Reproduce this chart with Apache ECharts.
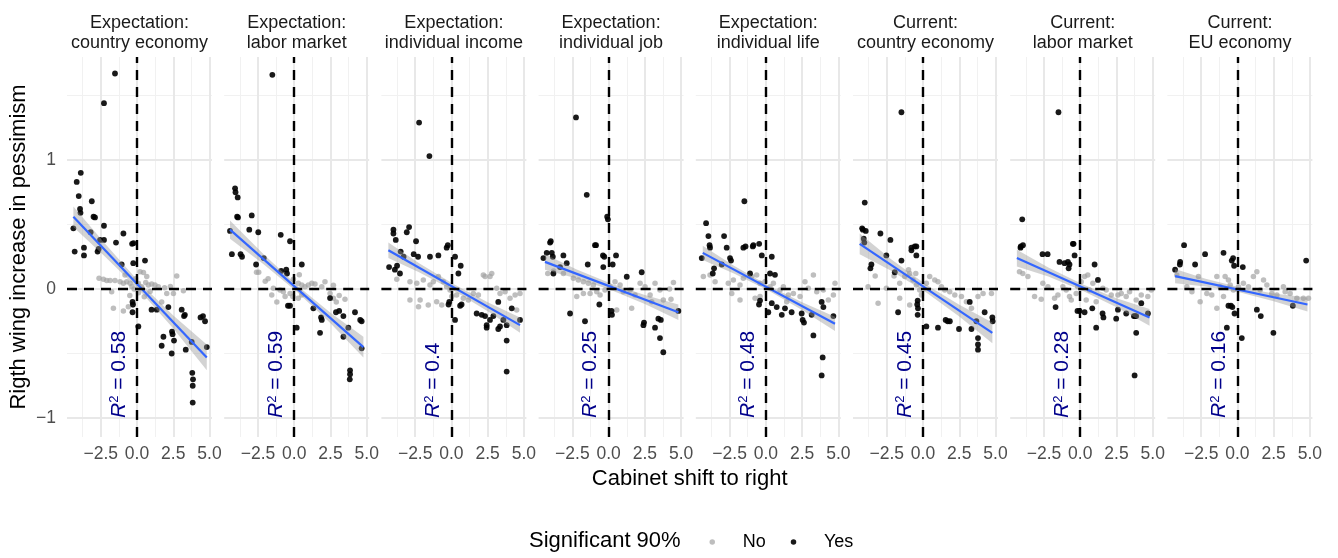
<!DOCTYPE html>
<html><head><meta charset="utf-8">
<script src="https://cdn.jsdelivr.net/npm/echarts@6/dist/echarts.min.js"></script>
<style>html,body{margin:0;padding:0;background:#fff}#c{width:1338px;height:558px}</style>
</head><body><div id="c"></div>
<script>
// ---------------- DATA ----------------
const panelTitles = [
  'Expectation:\ncountry economy', 'Expectation:\nlabor market', 'Expectation:\nindividual income',
  'Expectation:\nindividual job', 'Expectation:\nindividual life', 'Current:\ncountry economy',
  'Current:\nlabor market', 'Current:\nEU economy'
];
const r2Labels = ['0.58', '0.59', '0.4', '0.25', '0.48', '0.45', '0.28', '0.16'];
const xTicks = [-2.5, 0, 2.5, 5];
const xMinorTicks = [-3.75, -1.25, 1.25, 3.75];
const yTicks = [-1, 0, 1];
const yMinorTicks = [-0.5, 0.5, 1.5];
const legendNames = ['No', 'Yes'];

const p1No = [[-2.62,0.083],[-2.32,0.075],[-2.09,0.065],[-1.86,0.065],[-1.52,0.065],[-1.17,0.057],[-0.94,0.044],[-0.71,0.057],[-0.48,0.044],[-0.83,0.109],[0.21,0.134],[0.44,0.128],[0.67,0.096],[1.01,0.039],[1.24,0.031],[1.47,0.018],[2.05,-0.034],[2.51,-0.034],[2.74,0.10],[3.2,-0.013],[-1.63,-0.150],[-0.94,-0.171],[-0.60,-0.137],[-0.30,-0.124],[0.09,0.044],[0.32,0.018],[0.78,0.031],[-1.75,-0.021],[-0.2,0.0],[0.1,-0.03],[-0.5,-0.05],[0.5,-0.06],[0.9,-0.02],[1.7,-0.1],[2.3,0.02],[-0.1,0.08],[-0.35,0.02],[0.6,0.05],[1.9,0.01]];
const p1Yes = [[-1.52,1.67],[-2.28,1.44],[-3.88,0.90],[-4.16,0.83],[-4.02,0.72],[-3.12,0.68],[-3.93,0.62],[-3.9,0.59],[-3.0,0.56],[-2.9,0.555],[-2.28,0.49],[-4.39,0.47],[-0.94,0.43],[-1.45,0.36],[-2.55,0.38],[-2.28,0.38],[-0.34,0.35],[-0.25,0.355],[-3.2,0.44],[-3.66,0.32],[-4.3,0.29],[-3.66,0.26],[-2.72,0.29],[-2.65,0.31],[-0.26,0.20],[0.55,0.22],[-1.06,0.19],[-0.31,-0.10],[-0.28,-0.12],[-0.31,-0.18],[0.09,-0.29],[1.0,-0.16],[1.36,-0.16],[2.16,-0.14],[3.08,-0.16],[3.24,-0.21],[3.3,-0.2],[2.41,-0.33],[2.45,-0.35],[1.82,-0.37],[1.7,-0.44],[2.55,-0.40],[2.39,-0.50],[3.36,-0.47],[3.77,-0.41],[4.38,-0.22],[4.55,-0.21],[4.69,-0.25],[4.81,-0.45],[3.81,-0.65],[3.86,-0.70],[3.84,-0.75],[3.84,-0.88]];

const p2No = [[-1.55,-0.047],[-1.44,0.005],[-0.98,-0.008],[-0.75,-0.021],[-0.63,-0.059],[-0.29,-0.034],[-0.10,-0.059],[0.28,-0.072],[0.52,-0.047],[0.74,0.018],[0.97,0.031],[1.21,0.044],[1.43,0.039],[1.90,0.018],[2.12,0.057],[2.47,-0.034],[2.70,-0.072],[-2.6,0.13],[-2.45,0.13],[-2.0,0.06],[-1.8,0.08],[-0.06,0.075],[0.28,0.044],[0.52,0.031],[0.35,0.11],[2.7,0.03],[3.1,-0.05],[2.9,-0.1],[3.5,-0.08],[-1.2,-0.1],[-0.4,-0.13]];
const p2Yes = [[-1.51,1.66],[-4.08,0.78],[-4.05,0.75],[-3.9,0.71],[-3.94,0.56],[-3.88,0.555],[-2.93,0.57],[-3.1,0.46],[-2.48,0.44],[-4.43,0.45],[-0.93,0.42],[-0.29,0.37],[-4.3,0.27],[-3.7,0.27],[-3.6,0.25],[-2.63,0.19],[-0.9,0.14],[-0.55,0.15],[-0.5,0.12],[0.52,0.19],[-0.43,-0.13],[-0.29,-0.13],[0.17,-0.30],[1.32,-0.15],[1.85,-0.22],[1.9,-0.24],[1.78,-0.34],[2.47,-0.07],[2.88,-0.18],[3.1,-0.17],[3.39,-0.21],[3.73,-0.30],[3.39,-0.37],[4.19,-0.18],[4.55,-0.24],[4.65,-0.25],[4.65,-0.46],[3.85,-0.63],[3.85,-0.66],[3.83,-0.70],[-2.1,0.24]];

const p3No = [[-3.77,0.075],[-2.86,0.057],[-2.39,0.044],[-1.94,0.070],[-1.48,0.031],[-1.25,0.057],[-0.9,0.096],[-0.56,0.057],[-0.33,0.018],[-0.1,-0.008],[0.02,-0.059],[0.36,-0.047],[0.82,-0.072],[1.17,-0.085],[1.51,-0.034],[1.86,-0.047],[2.2,0.109],[2.32,0.096],[2.66,0.096],[2.78,0.121],[3.12,0.005],[3.35,-0.034],[3.7,-0.021],[4.04,-0.072],[4.39,-0.047],[4.73,-0.034],[4.5,-0.163],[-2.86,-0.085],[-2.27,-0.137],[-1.6,-0.124],[-2.16,-0.085],[-1.02,-0.098],[-0.67,-0.124]];
const p3Yes = [[-2.23,1.29],[-1.52,1.03],[-4.0,0.46],[-4.0,0.43],[-2.92,0.48],[-3.08,0.44],[-3.84,0.38],[-2.44,0.37],[-0.33,0.32],[-4.3,0.17],[-3.9,0.15],[-3.55,0.12],[-3.75,0.18],[-3.5,0.29],[-3.3,0.25],[-2.6,0.27],[-2.3,0.25],[-1.48,0.25],[-0.9,0.26],[-0.25,0.34],[0.25,0.25],[0.64,0.18],[0.48,0.12],[-0.2,-0.12],[-0.15,-0.10],[0.25,-0.24],[0.6,-0.13],[0.7,-0.12],[1.74,-0.19],[2.09,-0.20],[2.32,-0.21],[2.43,-0.28],[2.43,-0.30],[2.66,-0.24],[2.89,-0.21],[3.23,-0.10],[3.35,-0.29],[3.23,-0.31],[3.58,-0.24],[3.81,-0.28],[4.16,-0.15],[4.73,-0.24],[3.81,-0.40],[3.81,-0.64]];

const p4No = [[-3.12,0.121],[-2.43,0.083],[-2.09,0.070],[-1.74,0.057],[-1.40,0.044],[-1.05,0.031],[-0.82,-0.021],[-0.59,-0.047],[-0.25,-0.008],[0.10,0.018],[0.44,0.057],[0.79,0.031],[1.01,-0.021],[1.48,-0.008],[1.82,-0.047],[2.17,0.044],[2.51,0.018],[2.86,-0.047],[3.20,0.044],[3.54,-0.008],[3.77,-0.085],[-2.2,-0.059],[-1.74,-0.034],[-1.28,-0.034],[1.59,-0.150],[0.56,-0.163],[2.97,-0.098],[4.47,0.05],[4.2,0.0],[4.3,-0.08],[-3.8,0.14],[-4.2,0.12]];
const p4Yes = [[-2.25,1.33],[-1.51,0.73],[-0.1,0.56],[-0.05,0.54],[-3.99,0.37],[-0.94,0.34],[-4.04,0.36],[-4.5,0.24],[-4.27,0.28],[-3.92,0.28],[-3.85,0.25],[-3.12,0.26],[-2.89,0.20],[-3.35,0.17],[-3.81,0.12],[-0.87,0.34],[-1.44,0.19],[-0.39,0.26],[-0.3,0.25],[0.51,0.26],[0.28,0.19],[-0.37,0.17],[1.25,0.095],[2.28,0.13],[-2.66,-0.19],[-1.63,-0.25],[-0.64,-0.12],[0.23,-0.20],[0.2,-0.17],[2.44,-0.26],[2.4,-0.28],[3.2,-0.30],[3.43,-0.23],[3.6,-0.24],[3.54,-0.38],[3.77,-0.49],[4.81,-0.17]];

const p5No = [[-4.31,0.096],[-3.85,0.109],[-3.50,0.057],[-2.59,0.044],[-2.24,0.070],[-1.78,0.031],[-1.55,0.083],[-0.97,0.096],[-0.63,0.109],[-0.40,0.044],[-0.06,0.057],[0.29,0.018],[0.52,0.044],[0.98,-0.008],[1.21,0.018],[1.55,-0.047],[1.90,-0.034],[2.36,-0.059],[2.70,0.057],[2.93,0.005],[3.28,0.109],[3.51,-0.021],[3.97,-0.008],[4.31,-0.085],[4.66,-0.047],[4.77,0.044],[-2.35,-0.034],[-1.78,-0.085],[-0.74,-0.072],[-0.40,-0.059],[1.44,-0.098]];
const p5Yes = [[-1.48,0.68],[-4.12,0.51],[-3.96,0.41],[-2.88,0.41],[-3.88,0.34],[-3.85,0.32],[-2.7,0.32],[-1.4,0.33],[-0.9,0.33],[-0.46,0.35],[-4.42,0.24],[-3.66,0.12],[-3.57,0.16],[-3.04,0.19],[-2.47,0.24],[-2.4,0.22],[-1.55,0.32],[-0.86,0.34],[-0.28,0.26],[0.41,0.25],[0.29,0.12],[0.63,0.11],[-1.09,0.12],[-0.47,-0.12],[-0.4,-0.09],[0.17,-0.18],[0.41,-0.11],[0.75,-0.14],[1.1,-0.20],[1.32,-0.15],[1.78,-0.18],[2.47,-0.19],[2.54,-0.24],[2.63,-0.26],[3.16,-0.20],[3.85,-0.10],[3.97,-0.14],[4.66,-0.21],[3.28,-0.36],[3.92,-0.53],[3.85,-0.67]];

const p6No = [[-3.79,0.018],[-3.10,-0.111],[-2.53,0.005],[-1.61,0.044],[-1.26,0.096],[-0.92,0.121],[-0.69,0.070],[-0.46,0.031],[-0.23,-0.008],[-0.11,-0.047],[0.23,0.044],[0.46,0.096],[0.81,0.070],[1.03,0.057],[1.27,0.018],[1.50,-0.008],[1.84,-0.021],[2.19,-0.047],[2.65,-0.059],[2.99,-0.098],[3.34,-0.150],[3.79,-0.059],[4.14,-0.034],[4.72,-0.034],[-1.61,-0.072],[-0.92,-0.124],[-1.0,0.15],[-0.5,0.12],[-3.3,0.1],[-2.0,0.1]];
const p6Yes = [[-1.49,1.37],[-4.02,0.67],[-4.2,0.47],[-4.15,0.46],[-3.95,0.45],[-4.09,0.39],[-4.05,0.36],[-2.94,0.43],[-2.25,0.38],[-0.57,0.33],[-0.8,0.32],[-3.56,0.19],[-3.63,0.16],[-2.53,0.26],[-1.95,0.13],[-1.49,0.22],[-0.8,0.30],[-0.46,0.33],[-0.46,0.26],[-1.72,-0.18],[-0.37,-0.09],[-0.4,-0.12],[-0.35,-0.15],[-0.37,-0.20],[0.23,-0.29],[1.03,-0.30],[1.56,-0.24],[1.7,-0.25],[1.85,-0.25],[2.48,-0.31],[3.22,-0.10],[3.34,-0.31],[3.68,-0.25],[3.79,-0.38],[3.79,-0.43],[3.79,-0.47],[4.25,-0.18],[4.78,-0.22],[4.8,-0.25]];

const p7No = [[-4.19,0.134],[-3.96,0.121],[-3.61,0.096],[-3.15,-0.059],[-2.69,-0.080],[-2.58,0.044],[-2.23,0.018],[-1.77,-0.072],[-1.54,-0.047],[-1.20,0.018],[-0.97,-0.008],[-0.74,-0.059],[-0.62,-0.085],[-0.28,-0.034],[-0.17,0.018],[0.07,0.057],[0.30,0.096],[0.52,0.109],[0.41,-0.085],[0.64,-0.008],[0.87,0.044],[1.10,-0.098],[1.56,0.005],[1.79,-0.008],[2.14,-0.047],[2.60,-0.047],[2.83,-0.034],[3.17,-0.059],[3.40,-0.021],[3.86,-0.085],[4.21,-0.047],[4.66,-0.059],[4.90,-0.008]];
const p7Yes = [[-1.5,1.37],[-4.0,0.54],[-4.1,0.33],[-3.95,0.34],[-0.46,0.35],[-4.12,0.32],[-2.6,0.27],[-2.25,0.27],[-1.43,0.21],[-1.08,0.20],[-0.85,0.21],[-0.74,0.19],[-0.39,0.26],[-0.51,0.35],[-0.8,0.16],[0.99,0.19],[1.22,0.07],[-1.7,-0.14],[-0.19,-0.17],[-0.05,-0.17],[0.3,-0.18],[0.83,-0.15],[1.1,-0.30],[1.54,-0.19],[1.6,-0.22],[2.48,-0.23],[2.6,-0.16],[3.17,-0.19],[3.7,-0.21],[3.78,-0.21],[3.86,-0.21],[4.21,-0.11],[4.67,-0.19],[3.86,-0.34],[3.75,-0.67]];

const p8No = [[-4.18,0.109],[-3.49,0.018],[-3.14,-0.021],[-2.69,0.096],[-2.57,-0.098],[-2.11,-0.034],[-1.77,-0.047],[-1.42,0.096],[-1.19,0.018],[-0.85,0.096],[-0.62,0.070],[-0.50,0.031],[-0.28,-0.008],[0.07,0.018],[0.41,0.044],[0.76,0.018],[1.10,0.096],[1.34,0.134],[1.57,-0.008],[1.80,0.070],[2.03,0.031],[2.37,-0.034],[2.72,-0.047],[3.17,0.018],[3.29,-0.021],[3.63,-0.034],[4.10,-0.072],[4.55,-0.072],[4.90,-0.072],[-1.42,-0.150],[-0.96,-0.059]];
const p8Yes = [[-4.3,0.15],[-3.97,0.19],[-3.95,0.21],[-3.68,0.34],[-2.92,0.19],[-2.23,0.27],[-0.96,0.28],[-0.39,0.22],[-0.23,0.18],[-0.3,0.24],[0.37,0.17],[4.74,0.22],[-0.62,-0.13],[-0.45,-0.13],[-0.35,-0.14],[-0.2,-0.19],[-0.73,-0.30],[0.3,-0.38],[1.34,-0.16],[1.61,-0.21],[2.48,-0.34],[3.82,-0.13]];

// fitted lines: [[xStart, yStart], [xEnd, yEnd]]
const fit1 = [[-4.39,0.56],[4.81,-0.53]];
const fit2 = [[-4.43,0.46],[4.77,-0.45]];
const fit3 = [[-4.35,0.30],[4.73,-0.28]];
const fit4 = [[-4.39,0.21],[4.81,-0.18]];
const fit5 = [[-4.35,0.28],[4.77,-0.27]];
const fit6 = [[-4.37,0.35],[4.78,-0.34]];
const fit7 = [[-4.37,0.24],[4.78,-0.22]];
const fit8 = [[-4.3,0.10],[4.83,-0.12]];

// confidence bands: [x, lower, upper]
const band1 = [[-4.39,0.48,0.64],[-2.2,0.25,0.35],[0.2,-0.014,0.046],[2.5,-0.306,-0.206],[4.81,-0.63,-0.43]];
const band2 = [[-4.43,0.39,0.53],[-2.2,0.199,0.279],[0.2,-0.023,0.027],[2.5,-0.265,-0.185],[4.77,-0.53,-0.37]];
const band3 = [[-4.35,0.24,0.36],[-2.2,0.128,0.198],[0.2,-0.016,0.034],[2.5,-0.173,-0.103],[4.73,-0.34,-0.22]];
const band4 = [[-4.39,0.15,0.27],[-2.2,0.082,0.152],[0.2,-0.01,0.04],[2.5,-0.117,-0.047],[4.81,-0.24,-0.12]];
const band5 = [[-4.35,0.225,0.335],[-2.2,0.12,0.18],[0.2,-0.014,0.026],[2.5,-0.163,-0.103],[4.77,-0.325,-0.215]];
const band6 = [[-4.37,0.27,0.43],[-2.2,0.141,0.231],[0.2,-0.025,0.035],[2.5,-0.213,-0.123],[4.78,-0.42,-0.26]];
const band7 = [[-4.37,0.175,0.305],[-2.2,0.096,0.166],[0.2,-0.015,0.035],[2.5,-0.141,-0.071],[4.78,-0.285,-0.155]];
const band8 = [[-4.3,0.045,0.155],[-2.2,0.019,0.079],[0.2,-0.028,0.012],[2.5,-0.094,-0.034],[4.83,-0.175,-0.065]];

// R² annotation anchor (data coords)
const r2Anchor = [-1.25, -1.0];

// ---------------- BUILD ----------------
const noSets = [p1No,p2No,p3No,p4No,p5No,p6No,p7No,p8No];
const yesSets = [p1Yes,p2Yes,p3Yes,p4Yes,p5Yes,p6Yes,p7Yes,p8Yes];
const fits = [fit1,fit2,fit3,fit4,fit5,fit6,fit7,fit8];
const bands = [band1,band2,band3,band4,band5,band6,band7,band8];

const FONT = '"Liberation Sans", Arial, sans-serif';
const LEFT0 = 67, STEP = 157.2, PW = 145, TOP = 57, PH = 380;
const XMIN = -4.83, XMAX = 5.17, YMIN = -1.147, YMAX = 1.798;
const fmtX = v => (v < 0 ? '\u2212' : '') + Math.abs(v).toFixed(1);
const fmtY = v => (v < 0 ? '\u2212' : '') + Math.abs(v);

const grid = [], xAxis = [], yAxis = [], series = [], title = [];
const majorStyle = {color: '#e8e8e8', width: 2, type: 'solid'};
const minorStyle = {color: '#f1f1f1', width: 1, type: 'solid'};
const NAVY = '#00008B';

for (let i = 0; i < 8; i++) {
  const left = LEFT0 + STEP * i;
  grid.push({left: left, top: TOP, width: PW, height: PH, containLabel: false});
  xAxis.push({
    type: 'value', gridIndex: i, min: XMIN, max: XMAX,
    axisLine: {show: false}, axisTick: {show: false}, splitLine: {show: false},
    axisLabel: {show: true, customValues: xTicks, formatter: fmtX, color: '#4d4d4d',
      fontSize: 17.5, fontFamily: FONT, margin: 8, hideOverlap: false}
  });
  yAxis.push({
    type: 'value', gridIndex: i, min: YMIN, max: YMAX,
    axisLine: {show: false}, axisTick: {show: false}, splitLine: {show: false},
    axisLabel: {show: i === 0, customValues: yTicks, formatter: fmtY, color: '#4d4d4d',
      fontSize: 17.5, fontFamily: FONT, margin: 11},
    name: i === 0 ? 'Rigth wing increase in pessimism' : '',
    nameLocation: 'middle', nameGap: 37, nameRotate: 90,
    nameTextStyle: {fontSize: 22, color: '#000', fontFamily: FONT}
  });
  title.push({
    text: panelTitles[i], left: left + PW / 2, top: 13, textAlign: 'center', padding: 0,
    textStyle: {fontSize: 18, fontWeight: 'normal', color: '#1a1a1a', fontFamily: FONT, lineHeight: 20}
  });

  // grid lines (from tick arrays)
  series.push({
    type: 'scatter', xAxisIndex: i, yAxisIndex: i, data: [], silent: true,
    markLine: {
      silent: true, symbol: 'none', z: 0, label: {show: false}, animation: false,
      data: [
        ...xMinorTicks.map(v => ({xAxis: v, lineStyle: minorStyle})),
        ...yMinorTicks.map(v => ({yAxis: v, lineStyle: minorStyle})),
        ...xTicks.map(v => ({xAxis: v, lineStyle: majorStyle})),
        ...yTicks.map(v => ({yAxis: v, lineStyle: majorStyle}))
      ]
    }
  });
  // points
  series.push({
    name: legendNames[0], type: 'scatter', xAxisIndex: i, yAxisIndex: i, z: 2,
    data: noSets[i], symbolSize: 5.5, itemStyle: {color: '#a3a3a3', opacity: 0.7}, silent: true
  });
  series.push({
    name: legendNames[1], type: 'scatter', xAxisIndex: i, yAxisIndex: i, z: 2,
    data: yesSets[i], symbolSize: 5.8, itemStyle: {color: '#000', opacity: 0.9}, silent: true
  });
  // confidence band
  const band = bands[i];
  series.push({
    type: 'custom', xAxisIndex: i, yAxisIndex: i, z: 3, silent: true, data: [0],
    renderItem: function (params, api) {
      const up = band.map(b => api.coord([b[0], b[2]]));
      const lo = band.slice().reverse().map(b => api.coord([b[0], b[1]]));
      return {type: 'polygon', shape: {points: up.concat(lo)}, style: {fill: 'rgba(150,150,150,0.42)'}};
    }
  });
  // fitted line
  series.push({
    type: 'line', xAxisIndex: i, yAxisIndex: i, z: 4, data: fits[i], symbol: 'none', silent: true,
    lineStyle: {color: '#3366FF', width: 2.2}
  });
  // dashed reference lines
  series.push({
    type: 'scatter', xAxisIndex: i, yAxisIndex: i, data: [], silent: true,
    markLine: {
      silent: true, symbol: 'none', z: 6, label: {show: false}, animation: false,
      lineStyle: {color: '#000', width: 2.4, type: [10, 7]},
      data: [{xAxis: 0}, {yAxis: 0}]
    }
  });
  // R² annotation
  series.push({
    type: 'scatter', xAxisIndex: i, yAxisIndex: i, z: 7, silent: true,
    data: [r2Anchor], symbolSize: 1, itemStyle: {color: 'rgba(0,0,0,0)'},
    label: {
      show: true, position: 'inside', rotate: 90, align: 'left', verticalAlign: 'middle',
      color: NAVY, textBorderWidth: 0, textBorderColor: 'transparent', opacity: 1,
      formatter: '{i|R}{s|2}{n| = ' + r2Labels[i] + '}',
      rich: {
        i: {fontStyle: 'italic', fontSize: 21, color: NAVY, fontFamily: FONT, textBorderWidth: 0},
        s: {fontSize: 13, color: NAVY, fontFamily: FONT, verticalAlign: 'top', textBorderWidth: 0},
        n: {fontSize: 21, color: NAVY, fontFamily: FONT, textBorderWidth: 0}
      }
    }
  });
}

title.push({
  text: 'Cabinet shift to right', left: (LEFT0 + LEFT0 + STEP * 7 + PW) / 2, top: 468, textAlign: 'center', padding: 0,
  textStyle: {fontSize: 22, fontWeight: 'normal', color: '#000', fontFamily: FONT}
});
title.push({
  text: 'Significant 90%', left: 529, top: 530, padding: 0,
  textStyle: {fontSize: 22, fontWeight: 'normal', color: '#000', fontFamily: FONT}
});

const chart = echarts.init(document.getElementById('c'));
chart.setOption({
  animation: false,
  backgroundColor: '#fff',
  title: title,
  grid: grid, xAxis: xAxis, yAxis: yAxis,
  legend: {
    data: legendNames, left: 709.5, top: 533, padding: 0, icon: 'circle', itemWidth: 51, itemHeight: 5.5, itemGap: 25,
    textStyle: {fontSize: 18, color: '#000', fontFamily: FONT}, selectedMode: false
  },
  series: series
});
</script></body></html>
